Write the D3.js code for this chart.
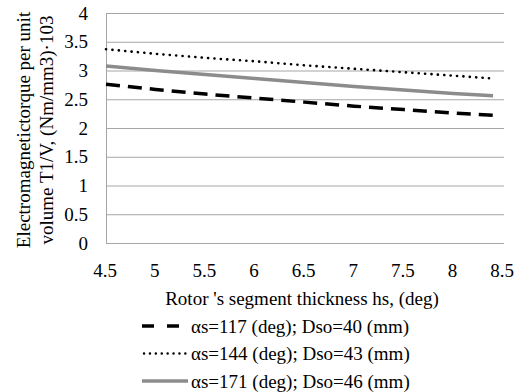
<!DOCTYPE html>
<html>
<head>
<meta charset="utf-8">
<script src="https://cdn.jsdelivr.net/npm/d3@7"></script>
<style>
  body { margin: 0; background: #fff; }
  svg text { font-family: "Liberation Serif", serif; }
</style>
</head>
<body>
<div id="chart"></div>
<script>
// values
const thickness = [4.5, 5, 5.5, 6, 6.5, 7, 7.5, 8, 8.4];
const series117 = [2.76, 2.67, 2.59, 2.52, 2.45, 2.38, 2.32, 2.26, 2.22];
const series144 = [3.37, 3.29, 3.22, 3.16, 3.09, 3.03, 2.97, 2.91, 2.86];
const series171 = [3.08, 3.00, 2.93, 2.86, 2.79, 2.72, 2.66, 2.60, 2.56];
const seriesNames = ["αs=117 (deg); Dso=40 (mm)", "αs=144 (deg); Dso=43 (mm)", "αs=171 (deg); Dso=46 (mm)"];
const xTicks = [4.5, 5, 5.5, 6, 6.5, 7, 7.5, 8, 8.5];
const yTicks = [0, 0.5, 1, 1.5, 2, 2.5, 3, 3.5, 4];

const TXT = "font-family: 'Liberation Serif', serif; font-size: 19px";
const W = 524, H = 392;
const margin = { top: 13, right: 20, bottom: 149, left: 106 };

const svg = d3.select("#chart").append("svg")
  .attr("width", W)
  .attr("height", H);

var x = d3.scaleLinear().domain([4.5, 8.5]).range([margin.left, 503]);
var y = d3.scaleLinear().domain([0, 4]).range([243, margin.top]);

// gridlines
svg.append("g")
  .selectAll("line")
  .data(yTicks)
  .enter().append("line")
    .attr("x1", margin.left).attr("x2", 504)
    .attr("y1", d => y(d) + 0.5).attr("y2", d => y(d) + 0.5)
    .attr("stroke", "#a6a6a6").attr("stroke-width", 1);

// left axis line
svg.append("line")
  .attr("x1", margin.left + 0.5).attr("x2", margin.left + 0.5)
  .attr("y1", y(4)).attr("y2", y(0) + 1)
  .attr("stroke", "#a6a6a6");

// tick labels
svg.append("g")
  .selectAll("text")
  .data(yTicks)
  .enter().append("text")
    .attr("x", 88)
    .attr("y", d => y(d) + 6.5)
    .attr("text-anchor", "end")
    .attr("style", TXT)
    .text(d => d);

svg.append("g")
  .selectAll("text")
  .data(xTicks)
  .enter().append("text")
    .attr("x", d => x(d) - 1)
    .attr("y", 277)
    .attr("text-anchor", "middle")
    .attr("style", TXT)
    .text(d => d);

// series styles
const styles = [
  { color: "#000", width: 3.5, dash: "14,8", cap: "butt" },
  { color: "#000", width: 2.6, dash: "0.1,6.3", cap: "round" },
  { color: "#8c8c8c", width: 3.5, dash: null, cap: "butt" }
];
const allSeries = [series117, series144, series171];

var line = d3.line()
  .x((d, i) => x(thickness[i]))
  .y(d => y(d));

allSeries.forEach((vals, k) => {
  svg.append("path")
    .datum(vals)
    .attr("fill", "none")
    .attr("stroke", styles[k].color)
    .attr("stroke-width", styles[k].width)
    .attr("stroke-dasharray", styles[k].dash)
    .attr("stroke-linecap", styles[k].cap)
    .attr("d", line);
});

// axis titles
svg.append("text")
  .attr("x", 302).attr("y", 305)
  .attr("text-anchor", "middle")
  .attr("style", TXT)
  .text("Rotor 's segment thickness hs, (deg)");

const yTitle = svg.append("g")
  .attr("transform", "translate(0,130) rotate(-90)");
yTitle.append("text")
  .attr("x", 0).attr("y", 30)
  .attr("text-anchor", "middle")
  .attr("style", TXT)
  .text("Electromagnetictorque per unit");
yTitle.append("text")
  .attr("x", 0).attr("y", 53)
  .attr("text-anchor", "middle")
  .attr("style", TXT)
  .text("volume T1/V, (Nm/mm3)·103");

// legend
const legendDash = ["12,13", "0.1,5.8", null];
const legend = svg.append("g");
seriesNames.forEach((name, i) => {
  const ly = 326 + i * 27.5;
  legend.append("line")
    .attr("x1", i === 1 ? 144 : 142).attr("x2", 188)
    .attr("y1", ly).attr("y2", ly)
    .attr("stroke", styles[i].color)
    .attr("stroke-width", i === 1 ? 2.4 : 3.5)
    .attr("stroke-dasharray", legendDash[i])
    .attr("stroke-linecap", styles[i].cap);
  legend.append("text")
    .attr("x", 191).attr("y", ly + 6.5)
    .attr("style", TXT)
    .text(name);
});
</script>
</body>
</html>
